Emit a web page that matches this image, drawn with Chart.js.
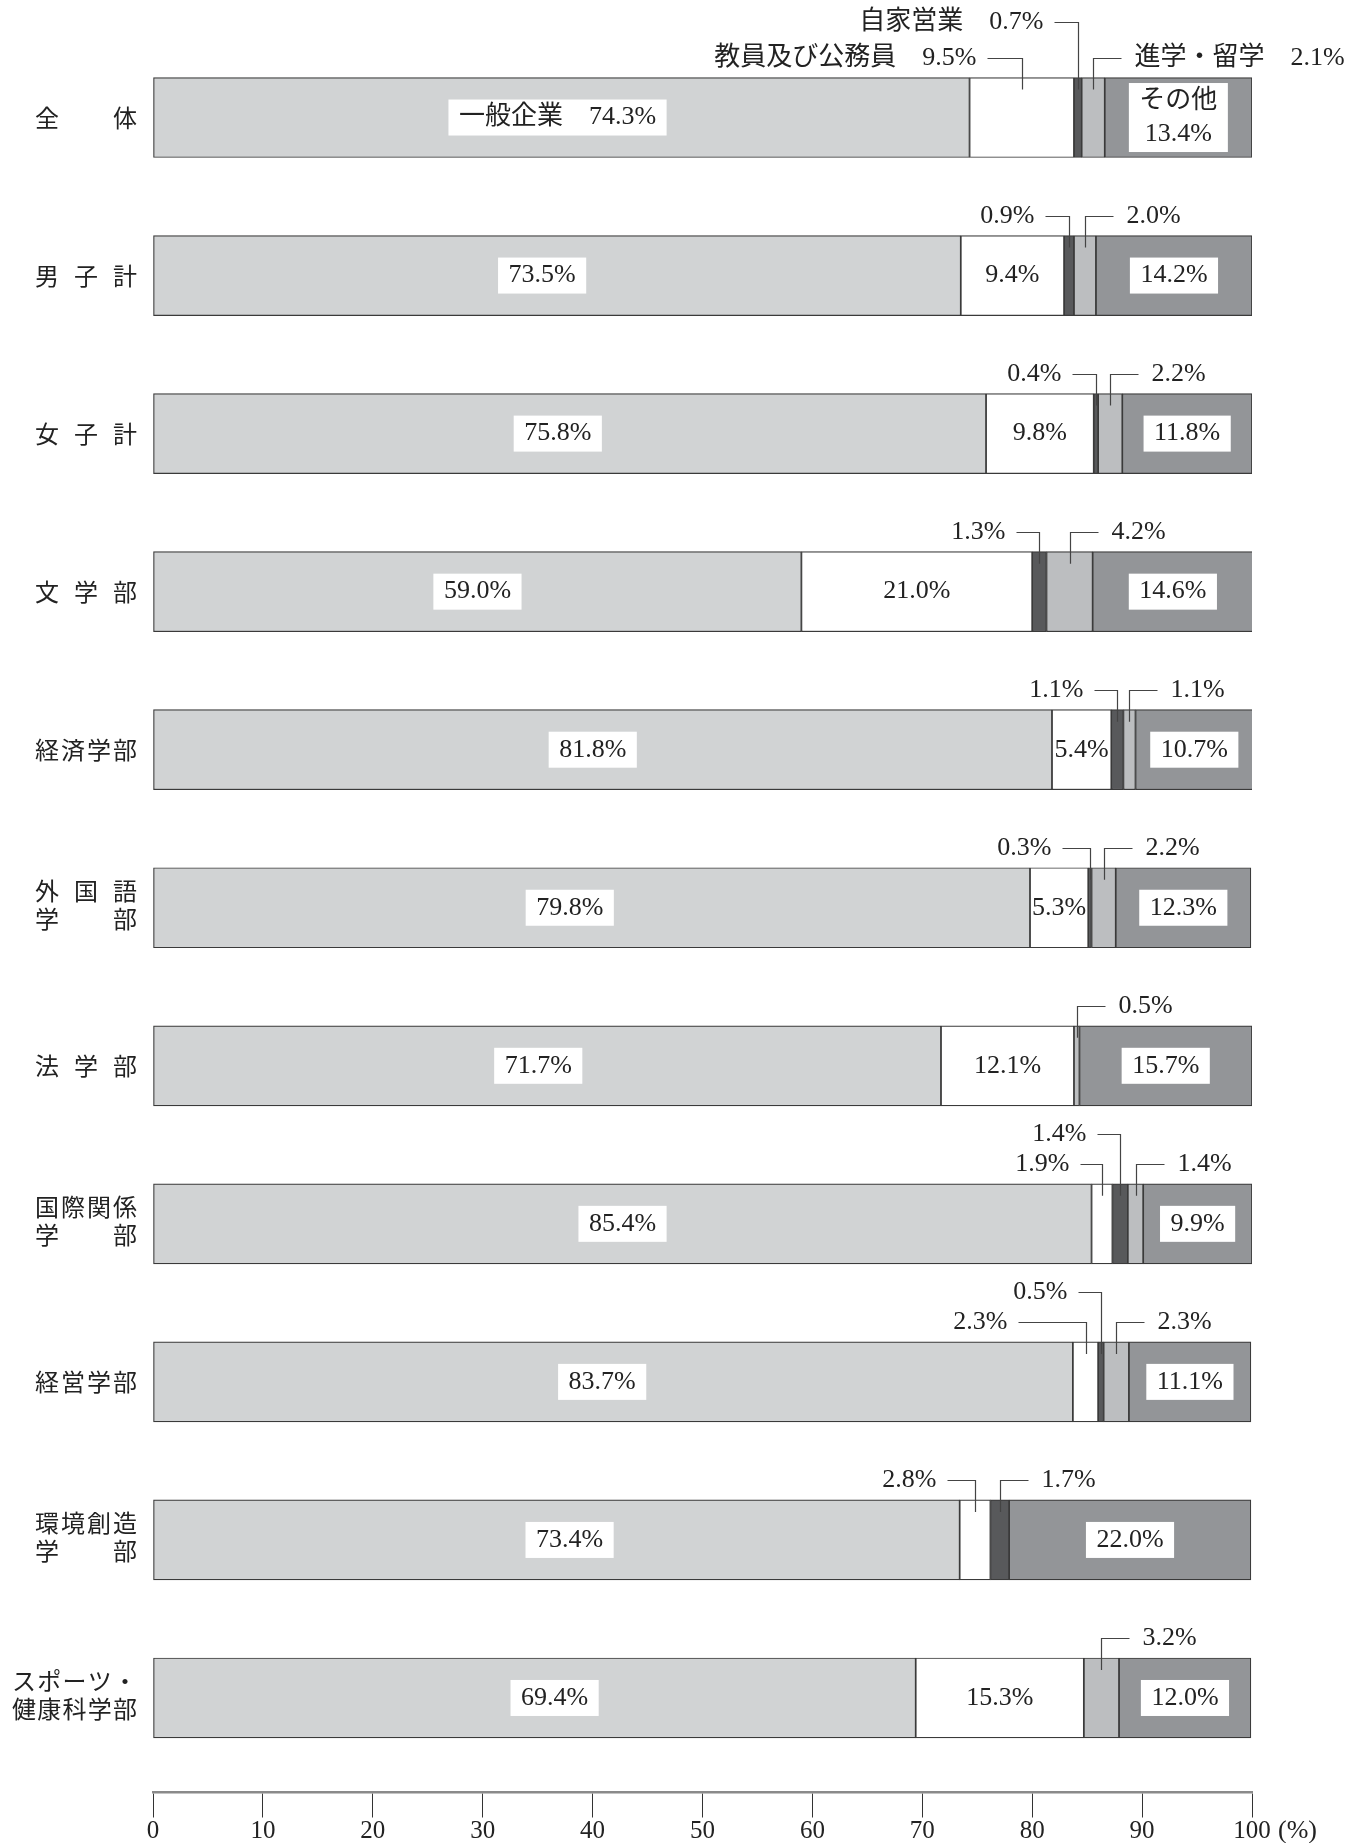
<!DOCTYPE html>
<html lang="ja">
<head>
<meta charset="utf-8">
<script src="https://cdn.jsdelivr.net/npm/chart.js@4.4.1/dist/chart.umd.min.js"></script>
<style>
  html, body { margin: 0; padding: 0; background: #fff; }
  #wrap { position: relative; width: 1362px; height: 1843px; }
</style>
</head>
<body>
<div id="wrap"><canvas id="careerChart"></canvas></div>
<script>
// categories (faculties), one array per visual line
const categories = [
  ['全体'], ['男子計'], ['女子計'], ['文学部'], ['経済学部'], ['外国語', '学部'],
  ['法学部'], ['国際関係', '学部'], ['経営学部'], ['環境創造', '学部'], ['スポーツ・', '健康科学部']
];
const seriesNames = ['一般企業', '教員及び公務員', '自家営業', '進学・留学', 'その他'];

// shares in %, null = no segment
const general      = [74.3, 73.5, 75.8, 59.0, 81.8, 79.8, 71.7, 85.4, 83.7, 73.4, 69.4];
const teacher      = [9.5, 9.4, 9.8, 21.0, 5.4, 5.3, 12.1, 1.9, 2.3, 2.8, 15.3];
const selfEmployed = [0.7, 0.9, 0.4, 1.3, 1.1, 0.3, null, 1.4, 0.5, 1.7, null];
const furtherStudy = [2.1, 2.0, 2.2, 4.2, 1.1, 2.2, 0.5, 1.4, 2.3, null, 3.2];
const other        = [13.4, 14.2, 11.8, 14.6, 10.7, 12.3, 15.7, 9.9, 11.1, 22.0, 12.0];

const xTicks = [0, 10, 20, 30, 40, 50, 60, 70, 80, 90, 100];

const series = [general, teacher, selfEmployed, furtherStudy, other];
const colors = ['#d1d3d4', '#ffffff', '#58595b', '#bcbec0', '#939598'];

// callout placement per row: [dataset, side, level, leader length]
const calloutLayout = [
  [[1, 'L', 1, 35], [2, 'L', 2, 24], [3, 'R', 1, 28]],
  [[2, 'L', 1, 24], [3, 'R', 1, 28]],
  [[2, 'L', 1, 24], [3, 'R', 1, 28]],
  [[2, 'L', 1, 23], [3, 'R', 1, 28]],
  [[2, 'L', 1, 23], [3, 'R', 1, 28]],
  [[2, 'L', 1, 28], [3, 'R', 1, 28]],
  [[3, 'R', 1, 28]],
  [[1, 'L', 1, 22], [2, 'L', 2, 23], [3, 'R', 1, 28]],
  [[1, 'L', 1, 68], [2, 'L', 2, 23], [3, 'R', 1, 28]],
  [[1, 'L', 1, 28], [2, 'R', 1, 28]],
  [[3, 'R', 1, 28]]
];
// horizontal nudge (px) of the 一般企業 label box, as set in the original layout
const firstBoxShift = [-4, -15, -12, 0, -10, -22, -9, 0, -11, 13, 20];

const NUM_FONT = "26px 'Liberation Serif', 'Noto Sans CJK JP', serif";
const CAT_FONT = "24px 'Noto Sans CJK JP', sans-serif";
const TEXT = '#222';
const fmt = v => v.toFixed(1) + '%';

function boxLabel(ctx, lines, cx, cy) {
  ctx.font = NUM_FONT;
  const lh = 33;
  const w = Math.max(...lines.map(t => ctx.measureText(t).width)) + 21;
  const h = lines.length * lh + 3;
  ctx.fillStyle = '#fff';
  ctx.fillRect(cx - w / 2, cy - h / 2, w, h);
  ctx.fillStyle = TEXT;
  ctx.textAlign = 'center';
  ctx.textBaseline = 'middle';
  lines.forEach((t, k) => ctx.fillText(t, cx, cy + (k - (lines.length - 1) / 2) * lh));
}

function callout(ctx, text, sx, barTop, level, side, len, gap) {
  const ly = Math.round(barTop - 20 - (level - 1) * gap) + 0.5;
  const lx = Math.round(sx) + 0.5;
  const ex = side === 'L' ? lx - len : lx + len;
  ctx.strokeStyle = '#444';
  ctx.lineWidth = 1.2;
  ctx.beginPath();
  ctx.moveTo(ex, ly);
  ctx.lineTo(lx, ly);
  ctx.lineTo(lx, barTop + 12);
  ctx.stroke();
  ctx.font = NUM_FONT;
  ctx.fillStyle = TEXT;
  ctx.textBaseline = 'middle';
  ctx.textAlign = side === 'L' ? 'right' : 'left';
  ctx.fillText(text, side === 'L' ? ex - 11 : ex + 13, ly);
}

function drawCategory(ctx, lines, cy) {
  ctx.font = CAT_FONT;
  ctx.fillStyle = TEXT;
  ctx.textAlign = 'left';
  ctx.textBaseline = 'middle';
  const right = 137, cw = 24;
  const offs = lines.length === 1 ? [0] : [-17, 11];
  lines.forEach((line, k) => {
    const chars = Array.from(line);
    const span = chars.length > 4 ? 125 : 102;
    const left = right - span;
    const step = chars.length > 1 ? (span - cw) / (chars.length - 1) : 0;
    chars.forEach((c, j) => ctx.fillText(c, left + j * step, cy + offs[k]));
  });
}

const barLabels = {
  id: 'barLabels',
  afterDatasetsDraw(chart) {
    const ctx = chart.ctx;
    ctx.save();
    const geom = (d, i) => {
      const el = chart.getDatasetMeta(d).data[i];
      const p = el.getProps(['x', 'base', 'y', 'height'], true);
      return { cx: (p.x + p.base) / 2, cy: p.y, top: p.y - p.height / 2 };
    };
    categories.forEach((cat, i) => {
      const named = i === 0;
      const outside = calloutLayout[i].map(c => c[0]);

      // 一般企業
      const g0 = geom(0, i);
      boxLabel(ctx, [named ? seriesNames[0] + '　' + fmt(general[i]) : fmt(general[i])], g0.cx + firstBoxShift[i], g0.cy);

      // 教員及び公務員 inside when wide enough
      if (!outside.includes(1) && teacher[i] != null) {
        const g1 = geom(1, i);
        ctx.font = NUM_FONT;
        ctx.fillStyle = TEXT;
        ctx.textAlign = 'center';
        ctx.textBaseline = 'middle';
        ctx.fillText(fmt(teacher[i]), g1.cx, g1.cy);
      }

      // その他
      const g4 = geom(4, i);
      boxLabel(ctx, named ? [seriesNames[4], fmt(other[i])] : [fmt(other[i])], g4.cx, g4.cy);

      // callouts for narrow segments
      calloutLayout[i].forEach(([d, side, level, len]) => {
        const v = series[d][i];
        if (v == null) return;
        const g = geom(d, i);
        const text = named ? seriesNames[d] + '　' + fmt(v) : fmt(v);
        callout(ctx, text, g.cx, g.top, level, side, len, named ? 36 : 30);
      });

      drawCategory(ctx, cat, g0.cy);
    });
    ctx.restore();
  },
  afterDraw(chart) {
    // unit after the last tick label
    const ctx = chart.ctx;
    const xs = chart.scales.x;
    const axisY = chart.scales.y.getPixelForValue(xs.options.position.y);
    ctx.save();
    ctx.font = NUM_FONT;
    ctx.fillStyle = TEXT;
    ctx.textAlign = 'left';
    ctx.textBaseline = 'middle';
    ctx.fillText('(%)', xs.getPixelForValue(100) + 26, axisY + xs.options.grid.tickLength + 15);
    ctx.restore();
  }
};

new Chart(document.getElementById('careerChart'), {
  type: 'bar',
  data: {
    labels: categories,
    datasets: series.map((vals, k) => ({
      label: seriesNames[k],
      data: vals,
      backgroundColor: colors[k],
      borderColor: '#3a3a3a',
      borderWidth: 1.2,
      borderSkipped: false,
      barThickness: 80
    }))
  },
  options: {
    indexAxis: 'y',
    responsive: true,
    maintainAspectRatio: false,
    devicePixelRatio: 1,
    animation: false,
    layout: { padding: { left: 153, right: 110, top: 38.5, bottom: 66 } },
    plugins: { legend: { display: false }, tooltip: { enabled: false } },
    scales: {
      y: {
        stacked: true,
        display: false,
        offset: true
      },
      x: {
        stacked: true,
        min: 0,
        max: 100,
        position: { y: categories.length - 1 + 0.595 },
        afterBuildTicks: s => { s.ticks = xTicks.map(v => ({ value: v })); },
        grid: { drawOnChartArea: false, drawTicks: true, tickLength: 24, tickColor: '#333', tickWidth: 1 },
        border: { display: true, color: '#8a8a8a', width: 2.5 },
        ticks: {
          padding: 0,
          maxRotation: 0,
          autoSkip: false,
          color: TEXT,
          font: { family: "'Liberation Serif', serif", size: 25 }
        }
      }
    }
  },
  plugins: [barLabels]
});
</script>
</body>
</html>
